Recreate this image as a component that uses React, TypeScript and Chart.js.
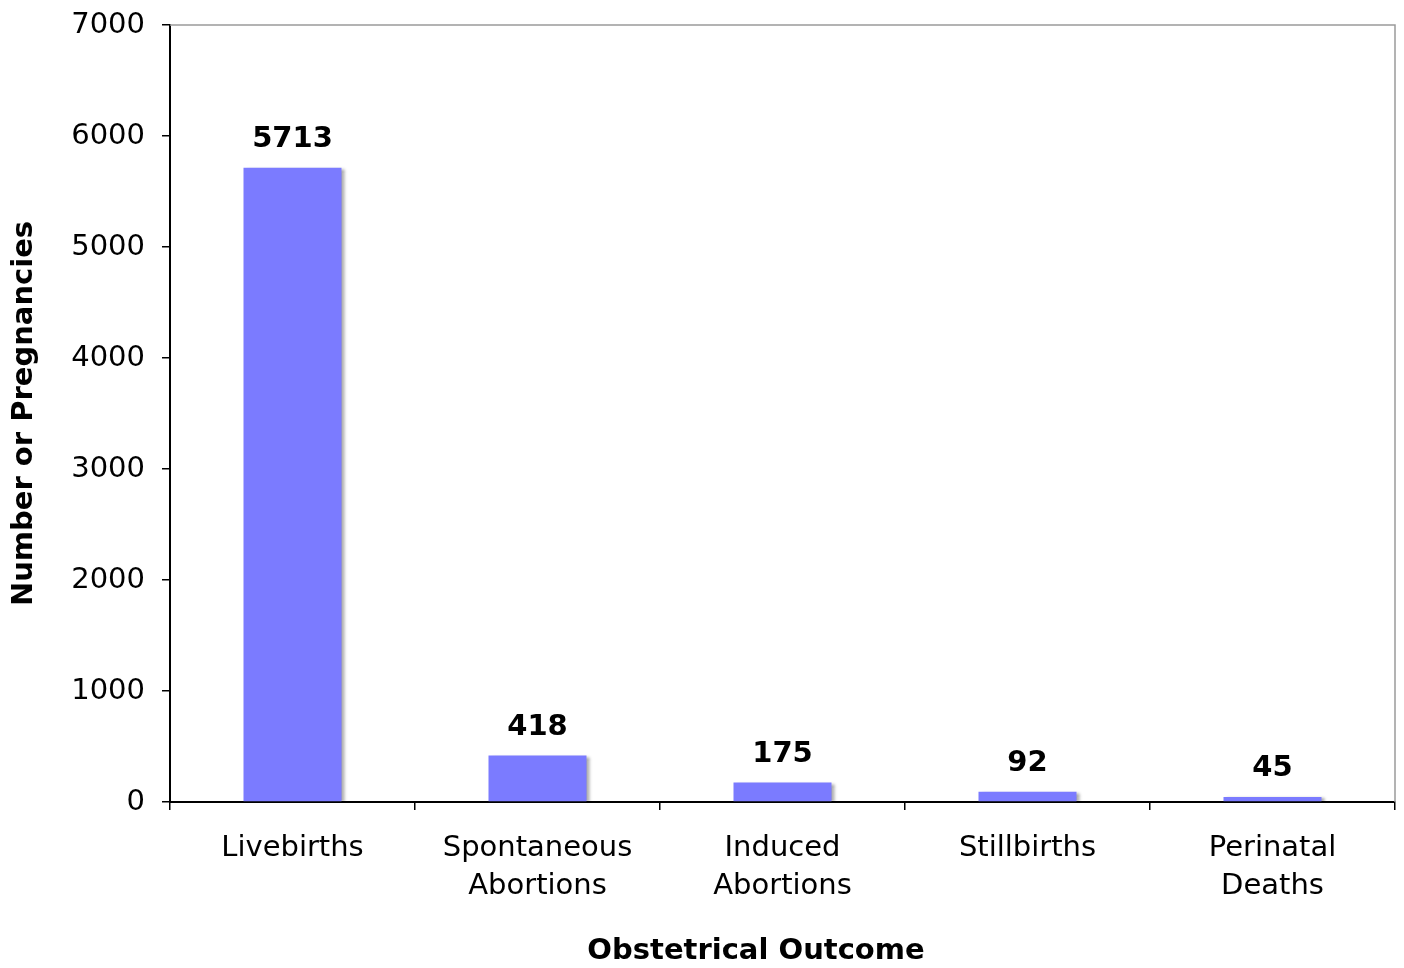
import React, { useEffect, useRef } from "react";
import { Chart, registerables } from "chart.js";

Chart.register(...registerables);

const categories: string[][] = [
  ["Livebirths"],
  ["Spontaneous", "Abortions"],
  ["Induced", "Abortions"],
  ["Stillbirths"],
  ["Perinatal", "Deaths"],
];
const counts: number[] = [5713, 418, 175, 92, 45];
const yTicks: number[] = [0, 1000, 2000, 3000, 4000, 5000, 6000, 7000];
const xTitle = "Obstetrical Outcome";
const yTitle = "Number or Pregnancies";

const FONT = "'DejaVu Sans', Verdana, sans-serif";

export default function App() {
  const ref = useRef<HTMLCanvasElement | null>(null);

  useEffect(() => {
    document.body.style.margin = "0";
    const canvas = ref.current;
    if (!canvas) return;

    const decor = {
      id: "decor",
      beforeDatasetDraw(chart: any) {
        const ctx = chart.ctx;
        ctx.save();
        ctx.shadowColor = "rgba(0,0,0,0.35)";
        ctx.shadowOffsetX = 3;
        ctx.shadowOffsetY = 1;
        ctx.shadowBlur = 3;
      },
      afterDatasetDraw(chart: any) {
        chart.ctx.restore();
      },
      afterDraw(chart: any) {
        const ctx = chart.ctx;
        const a = chart.chartArea;
        ctx.save();
        ctx.strokeStyle = "#9a9a9a";
        ctx.lineWidth = 1.5;
        ctx.beginPath();
        ctx.moveTo(a.left, a.top);
        ctx.lineTo(a.right, a.top);
        ctx.lineTo(a.right, a.bottom);
        ctx.stroke();
        const meta = chart.getDatasetMeta(0);
        ctx.fillStyle = "#000";
        ctx.font = `bold 29px ${FONT}`;
        ctx.textAlign = "center";
        ctx.textBaseline = "alphabetic";
        meta.data.forEach((bar: any, i: number) => {
          ctx.fillText(String(counts[i]), bar.x, bar.y - 21);
        });
        ctx.textBaseline = "middle";
        ctx.fillText(xTitle, 756, 951);
        ctx.restore();
      },
    };

    const chart = new Chart(canvas, {
      type: "bar",
      data: {
        labels: categories as any,
        datasets: [
          {
            data: counts,
            backgroundColor: "#7b7bff",
            borderWidth: 0,
            barPercentage: 0.4,
            categoryPercentage: 1,
          },
        ],
      },
      options: {
        animation: false,
        responsive: false,
        maintainAspectRatio: false,
        layout: { padding: { top: 25, right: 9, left: 0, bottom: 0 } },
        plugins: {
          legend: { display: false },
          tooltip: { enabled: false },
        },
        scales: {
          x: {
            grid: {
              drawOnChartArea: false,
              drawTicks: true,
              tickLength: 8,
              color: "#000",
              lineWidth: 1.5,
              offset: true,
            },
            border: { display: true, color: "#000", width: 2 },
            ticks: {
              color: "#000",
              font: { family: FONT, size: 29, lineHeight: 1.3 },
              padding: 20,
              maxRotation: 0,
              autoSkip: false,
            },
            afterFit(scale: any) {
              scale.height = 968 - 802;
              scale.paddingLeft = 0;
              scale.paddingRight = 0;
            },
          },
          y: {
            min: 0,
            max: 7000,
            afterBuildTicks(scale: any) {
              scale.ticks = yTicks.map((v) => ({ value: v }));
            },
            grid: {
              drawOnChartArea: false,
              drawTicks: true,
              tickLength: 8,
              color: "#000",
              lineWidth: 1.5,
            },
            border: { display: true, color: "#000", width: 2 },
            ticks: {
              color: "#000",
              font: { family: FONT, size: 29 },
              padding: 17,
              callback: (v: any) => String(v),
            },
            title: {
              display: true,
              text: yTitle,
              color: "#000",
              font: { family: FONT, size: 29, weight: "bold" },
              padding: { top: 7, bottom: 4 },
            },
            afterFit(scale: any) {
              scale.width = 170;
              scale.paddingTop = 0;
              scale.paddingBottom = 0;
            },
          },
        },
      },
      plugins: [decor],
    });

    return () => chart.destroy();
  }, []);

  return (
    <div style={{ width: 1404, height: 968 }}>
      <canvas ref={ref} width={1404} height={968} style={{ display: "block" }} />
    </div>
  );
}
